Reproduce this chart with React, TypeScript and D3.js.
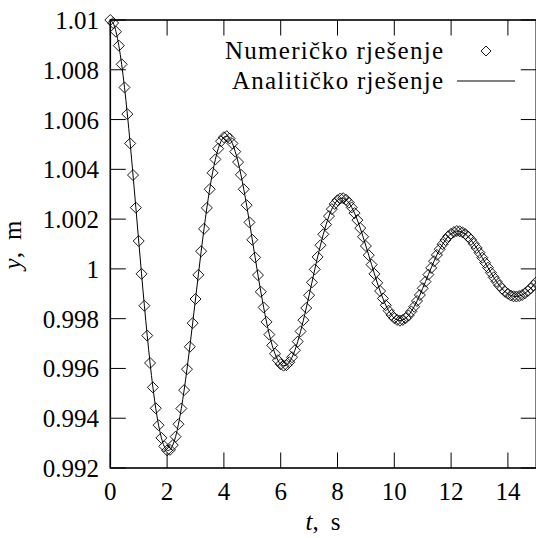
import React from "react";
import * as d3 from "d3";

// Sampling step of the numerical solution (s)
const TIME_STEP = 0.1;

// y(t) values, one per 0.1 s from t = 0 to t = 15
const yValues: number[] = [
  1.01000, 1.00988, 1.00953, 1.00897, 1.00822, 1.00729, 1.00622, 1.00504, 1.00377, 1.00246,
  1.00112, 0.99980, 0.99852, 0.99732, 0.99622, 0.99524, 0.99440, 0.99372, 0.99321, 0.99287,
  0.99271, 0.99273, 0.99292, 0.99326, 0.99376, 0.99439, 0.99513, 0.99597, 0.99687, 0.99782,
  0.99879, 0.99976, 1.00071, 1.00161, 1.00245, 1.00320, 1.00386, 1.00440, 1.00483, 1.00513,
  1.00529, 1.00533, 1.00524, 1.00504, 1.00471, 1.00429, 1.00378, 1.00320, 1.00256, 1.00187,
  1.00117, 1.00046, 0.99975, 0.99908, 0.99845, 0.99787, 0.99736, 0.99693, 0.99659, 0.99633,
  0.99617, 0.99611, 0.99613, 0.99625, 0.99645, 0.99673, 0.99708, 0.99749, 0.99794, 0.99843,
  0.99894, 0.99946, 0.99998, 1.00048, 1.00095, 1.00139, 1.00178, 1.00212, 1.00240, 1.00261,
  1.00276, 1.00283, 1.00284, 1.00278, 1.00266, 1.00247, 1.00224, 1.00196, 1.00164, 1.00129,
  1.00092, 1.00055, 1.00017, 0.99980, 0.99944, 0.99911, 0.99881, 0.99854, 0.99832, 0.99815,
  0.99802, 0.99795, 0.99792, 0.99795, 0.99802, 0.99813, 0.99829, 0.99848, 0.99871, 0.99895,
  0.99922, 0.99949, 0.99977, 1.00004, 1.00031, 1.00056, 1.00079, 1.00099, 1.00116, 1.00131,
  1.00141, 1.00148, 1.00152, 1.00151, 1.00147, 1.00140, 1.00130, 1.00117, 1.00101, 1.00084,
  1.00065, 1.00045, 1.00025, 1.00005, 0.99985, 0.99966, 0.99949, 0.99933, 0.99920, 0.99908,
  0.99900, 0.99893, 0.99890, 0.99889, 0.99891, 0.99895, 0.99902, 0.99911, 0.99921, 0.99934,
  0.99947,
];

const xTicks = [0, 2, 4, 6, 8, 10, 12, 14];
const yTicks = [0.992, 0.994, 0.996, 0.998, 1, 1.002, 1.004, 1.006, 1.008, 1.01];
const yTickLabels = ["0.992", "0.994", "0.996", "0.998", "1", "1.002", "1.004", "1.006", "1.008", "1.01"];
const legendLabels = ["Numeričko rješenje", "Analitičko rješenje"];

const W = 536;
const H = 538;
const FONT = '"Liberation Serif", "DejaVu Serif", serif';
const txt: React.CSSProperties = { fontFamily: FONT, fontSize: 25 };

export default function App() {
  const left = 110.3;
  const right = 536.3;
  const top = 20;
  const bottom = 468;
  const x = d3.scaleLinear().domain([0, 15]).range([left, right]);
  const y = d3.scaleLinear().domain([0.992, 1.01]).range([bottom, top]);

  const pts = yValues.map((v, i) => ({ t: i * TIME_STEP, v }));
  const line = d3
    .line<{ t: number; v: number }>()
    .x((d) => x(d.t))
    .y((d) => y(d.v))
    .curve(d3.curveCatmullRom);

  const diamond = (cx: number, cy: number, r: number) =>
    `M${cx},${cy - r}L${cx + r},${cy}L${cx},${cy + r}L${cx - r},${cy}Z`;

  const tickLen = 15.5;

  return (
    <svg
      width={W}
      height={H}
      style={{ position: "absolute", left: 0, top: 0, background: "#fff" }}
    >
      <rect x={0} y={0} width={W} height={H} fill="#fff" />
      {/* ticks */}
      {xTicks.map((t) => (
        <g key={"xt" + t} stroke="#000" strokeWidth={1}>
          <line x1={x(t)} x2={x(t)} y1={bottom} y2={bottom - tickLen} />
          <line x1={x(t)} x2={x(t)} y1={top} y2={top + tickLen} />
        </g>
      ))}
      {yTicks.map((v) => (
        <g key={"yt" + v} stroke="#000" strokeWidth={1}>
          <line x1={left} x2={left + tickLen} y1={y(v)} y2={y(v)} />
          <line x1={right} x2={right - tickLen} y1={y(v)} y2={y(v)} />
        </g>
      ))}
      {/* analytic line */}
      <path d={line(pts) || ""} fill="none" stroke="#000" strokeWidth={1} />
      {/* numerical markers */}
      {pts.map((p, i) => (
        <path
          key={"m" + i}
          d={diamond(x(p.t), y(p.v), 5.5)}
          fill="none"
          stroke="#000"
          strokeWidth={0.9}
        />
      ))}
      {/* frame */}
      <rect
        x={left}
        y={top}
        width={right - left}
        height={bottom - top}
        fill="none"
        stroke="#000"
        strokeWidth={1.6}
      />
      {/* tick labels */}
      {xTicks.map((t) => (
        <text key={"xl" + t} x={x(t)} y={500} textAnchor="middle" style={txt}>
          {t}
        </text>
      ))}
      {yTicks.map((v, i) => (
        <text key={"yl" + v} x={99} y={y(v) + 9} textAnchor="end" style={txt}>
          {yTickLabels[i]}
        </text>
      ))}
      {/* axis labels */}
      <text x={323} y={530} textAnchor="middle" style={txt}>
        <tspan fontStyle="italic">t</tspan>
        <tspan>,</tspan>
        <tspan dx={12}>s</tspan>
      </text>
      <text transform="translate(21,245) rotate(-90)" textAnchor="middle" style={txt}>
        <tspan fontStyle="italic">y</tspan>
        <tspan>,</tspan>
        <tspan dx={12}>m</tspan>
      </text>
      {/* legend */}
      <text x={443} y={59} textAnchor="end" style={txt} textLength={218} lengthAdjust="spacing">
        {legendLabels[0]}
      </text>
      <text x={443} y={89} textAnchor="end" style={txt} textLength={211} lengthAdjust="spacing">
        {legendLabels[1]}
      </text>
      <path d={diamond(486, 51, 5)} fill="none" stroke="#000" strokeWidth={0.9} />
      <line x1={457} x2={515} y1={81} y2={81} stroke="#000" strokeWidth={1} />
    </svg>
  );
}
